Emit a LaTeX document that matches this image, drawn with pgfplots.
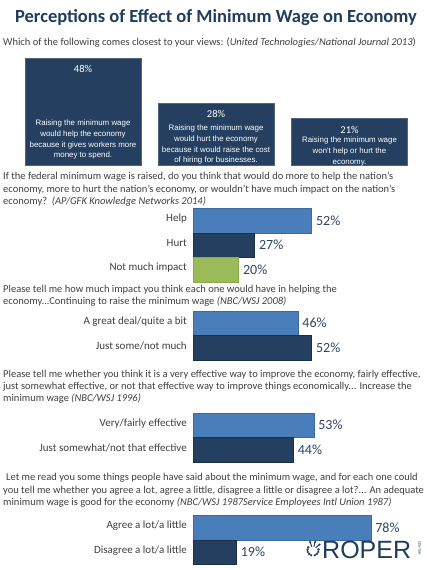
\documentclass[border=0pt]{standalone}
\usepackage{pgfplots}
\pgfplotsset{compat=1.18}
\usetikzlibrary{calc}
\usepackage{fontspec}
\setmainfont{Carlito}
\newfontfamily\arialf{Liberation Sans}
\definecolor{cnavy}{HTML}{243F60}
\definecolor{cnavyD}{HTML}{1A2F48}
\definecolor{cblue}{HTML}{4A7EBB}
\definecolor{cblueD}{HTML}{3A6A9F}
\definecolor{cgreen}{HTML}{9BBB59}
\definecolor{cgreenD}{HTML}{8AA84C}
\definecolor{ctext}{HTML}{404040}
\definecolor{cval}{HTML}{2F4563}
\definecolor{ctitle}{HTML}{213D5C}
\newcommand{\qfont}{\fontsize{10.5}{12}\selectfont}
\newcommand{\qline}[2]{\node[anchor=mid west, inner sep=0pt, font=\qfont, text=ctext] at (#1) {#2};}
\pgfplotsset{hbar/.style={xbar, bar shift=0pt, bar width=24.5pt, scale only axis, width=228pt,
  xmin=0, xmax=100, y dir=reverse, anchor=north west,
  /pgf/number format/assume math mode=true,
  axis line style={draw=none}, tick style={draw=none}, xtick=\empty, major tick length=0pt,
  yticklabel style={font=\fontsize{11}{13}\selectfont, text=ctext, inner sep=0pt, xshift=-6pt, yshift=2pt},
  point meta=x, nodes near coords={\pgfmathprintnumber{\pgfplotspointmeta}\%},
  every node near coord/.append style={font=\fontsize{14}{15}\selectfont, text=cval, xshift=1pt},
  clip=false}}
\begin{document}
\begin{tikzpicture}[x=1pt,y=1pt]
\fill[white] (0,0) rectangle (427,-570);
% title
\node[anchor=mid, inner sep=0pt, font=\fontsize{18.5}{20}\selectfont\bfseries, text=ctitle] at (216,-20) {Perceptions of Effect of Minimum Wage on Economy};
% Q1
\qline{3,-43}{Which of the following comes closest to your views: (\textit{United Technologies/National Journal 2013})}
\begin{axis}[ybar, bar shift=0pt, bar width=116pt, scale only axis, width=427pt, height=111.5pt,
  xmin=0, xmax=427, ymin=0, ymax=50, at={(0pt,-165.5pt)}, anchor=south west, hide axis, clip=false,
  /pgf/number format/assume math mode=true,
  nodes near coords={\pgfmathprintnumber{\pgfplotspointmeta}\%},
  every node near coord/.append style={anchor=north, inner sep=0pt, yshift=-7pt, text=white, font=\fontsize{10.5}{11}\selectfont}]
\addplot[fill=cnavy, draw=cnavy!80!white] coordinates {(83,48) (216,28) (349.5,21)};
\end{axis}
\begin{scope}[every node/.style={anchor=north, inner sep=0pt, align=center, text=white, font=\arialf\fontsize{7.9}{10.8}\selectfont}]
\node at (83,-119.6) {Raising the minimum wage\\would help the economy\\because it gives workers more\\money to spend.};
\node at (216,-124.6) {Raising the minimum wage\\would hurt the economy\\because it would raise the cost\\of hiring for businesses.};
\node at (349.5,-136.5) {Raising the minimum wage\\won't help or hurt the\\economy.};
\end{scope}
% Q2
\qline{3,-177.5}{If the federal minimum wage is raised, do you think that would do more to help the nation's}
\qline{3,-190}{economy, more to hurt the nation's economy, or wouldn't have much impact on the nation's}
\qline{3,-202.5}{economy?\ \ \textit{(AP/GFK Knowledge Networks 2014)}}
\begin{axis}[hbar, at={(193pt,-208.5pt)}, ymin=-0.5, ymax=2.5, height=73.5pt, ytick={0,1,2}, yticklabels={Help,Hurt,Not much impact}]
\addplot[fill=cblue, draw=cblueD] coordinates {(52,0)};
\addplot[fill=cnavy, draw=cnavyD] coordinates {(27,1)};
\addplot[fill=cgreen, draw=cgreenD] coordinates {(20,2)};
\end{axis}
% Q3
\qline{3,-290}{Please tell me how much impact you think each one would have in helping the}
\qline{3,-302.5}{economy...Continuing to raise the minimum wage \textit{(NBC/WSJ 2008)}}
\begin{axis}[hbar, at={(193pt,-311pt)}, ymin=-0.5, ymax=1.5, height=49pt, ytick={0,1}, yticklabels={A great deal/quite a bit,Just some/not much}]
\addplot[fill=cblue, draw=cblueD] coordinates {(46,0)};
\addplot[fill=cnavy, draw=cnavyD] coordinates {(52,1)};
\end{axis}
% Q4
\qline{3,-375}{Please tell me whether you think it is a very effective way to improve the economy, fairly effective,}
\qline{3,-387}{just somewhat effective, or not that effective way to improve things economically... Increase the}
\qline{3,-399.3}{minimum wage \textit{(NBC/WSJ 1996)}}
\begin{axis}[hbar, at={(193pt,-413pt)}, ymin=-0.5, ymax=1.5, height=49pt, ytick={0,1}, yticklabels={Very/fairly effective,Just somewhat/not that effective}]
\addplot[fill=cblue, draw=cblueD] coordinates {(53,0)};
\addplot[fill=cnavy, draw=cnavyD] coordinates {(44,1)};
\end{axis}
% Q5
\qline{6,-478.3}{Let me read you some things people have said about the minimum wage, and for each one could}
\qline{3,-490.7}{you tell me whether you agree a lot, agree a little, disagree a little or disagree a lot?... An adequate}
\qline{3,-503.3}{minimum wage is good for the economy \textit{(NBC/WSJ 1987Service Employees Intl Union 1987)}}
\begin{axis}[hbar, at={(193pt,-515.5pt)}, ymin=-0.5, ymax=1.5, height=49pt, ytick={0,1}, yticklabels={Agree a lot/a little,Disagree a lot/a little}]
\addplot[fill=cblue, draw=cblueD] coordinates {(78,0)};
\addplot[fill=cnavy, draw=cnavyD] coordinates {(19,1)};
\end{axis}
% ROPER logo
\node[anchor=base west, inner sep=0pt, font=\arialf\fontsize{25}{26}\selectfont, text=ctitle] at (322,-558.5) {ROPER};
\node[rotate=-90, anchor=north west, inner sep=0pt, font=\arialf\fontsize{3.4}{4}\selectfont, text=ctitle] at (421,-541) {CENTER};
\begin{scope}[ctitle]
\foreach \a in {-70,-45,-20,5,150,175,200,225,250} {\fill ($(313,-550)+(\a:5.5)$) circle (1.3);}
\foreach \a in {40,75,110} {\draw[line width=1] ($(313,-550)+(\a:3.5)$) -- ($(313,-550)+(\a:8)$); \fill ($(313,-550)+(\a:8.5)$) circle (1.2);}
\end{scope}
\end{tikzpicture}
\end{document}
